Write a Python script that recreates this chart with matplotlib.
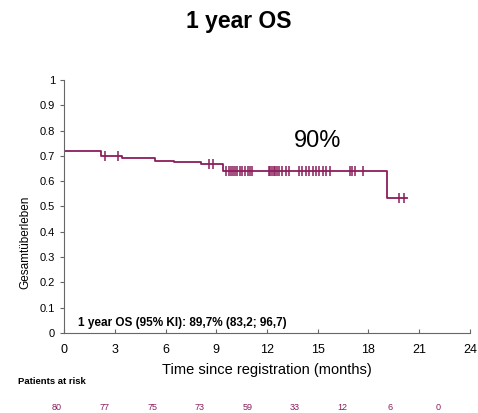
import numpy as np
import matplotlib.pyplot as plt

plt.rcParams['font.family'] = ['Liberation Sans', 'DejaVu Sans']

# Kaplan-Meier Stufen (Zeit in Monaten, Überleben)
step_times = [0, 2.2, 3.4, 5.4, 6.5, 8.1, 9.4, 19.1, 20.3]
step_surv = [0.72, 0.70, 0.69, 0.68, 0.675, 0.667, 0.642, 0.535, 0.535]

# zensierte Beobachtungen
censor_times = [2.4, 3.2, 8.6, 8.8, 9.6, 9.75, 9.9, 10.0, 10.1, 10.25, 10.4, 10.55,
                10.7, 10.85, 11.0, 11.1, 12.1, 12.2, 12.3, 12.4, 12.5, 12.6, 12.7,
                12.9, 13.1, 13.3, 13.9, 14.1, 14.3, 14.5, 14.7, 14.9, 15.1, 15.3,
                15.5, 15.7, 16.9, 17.0, 17.2, 17.65, 19.8, 20.1]

risk_counts = [80, 77, 75, 73, 59, 33, 12, 6, 0]

color = '#8B1E5B'

fig = plt.figure(figsize=(4.78, 4.13), dpi=100)
ax = fig.add_axes([0.134, 0.194, 0.849, 0.612])

ax.step(step_times, step_surv, where='post', color=color, lw=1.3)

idx = np.searchsorted(step_times, censor_times, side='right') - 1
censor_surv = [step_surv[i] for i in idx]
ax.plot(censor_times, censor_surv, ls='none', marker='|', ms=7, mew=1.1, color=color)

ax.set_xlim(0, 24)
ax.set_ylim(0, 1)
ax.set_xticks(range(0, 25, 3))
ax.set_yticks(np.arange(0, 1.01, 0.1))
ax.set_yticklabels(['0'] + ['%.1f' % v for v in np.arange(0.1, 0.95, 0.1)] + ['1'])
ax.spines['top'].set_visible(False)
ax.spines['right'].set_visible(False)
ax.spines['left'].set_color('#666666')
ax.spines['bottom'].set_color('#666666')
ax.tick_params(axis='y', direction='out', length=3, labelsize=8, color='#666666')
ax.tick_params(axis='x', direction='in', length=3, labelsize=9, pad=8, color='#666666')

ax.set_ylabel('Gesamtüberleben', fontsize=8.5)
ax.yaxis.set_label_coords(-0.08, 0.36)
ax.set_xlabel('Time since registration (months)', fontsize=10.5, labelpad=5)

ax.text(15.0, 0.715, '90%', fontsize=17, ha='center', va='bottom')
ax.text(0.8, 0.015, '1 year OS (95% KI): 89,7% (83,2; 96,7)', fontsize=8.5,
        fontweight='bold', va='bottom')

fig.suptitle('1 year OS', fontsize=16.5, fontweight='bold', y=0.975)

fig.text(18 / 478, 1 - 381 / 413, 'Patients at risk', fontsize=6.8, fontweight='bold',
         va='center')
for i, n in enumerate(risk_counts):
    fig.text((57 + 47.6 * i) / 478, 1 - 407 / 413, str(n), fontsize=6.5, color=color,
             ha='center', va='center')

fig.savefig('out.png', dpi=100)
